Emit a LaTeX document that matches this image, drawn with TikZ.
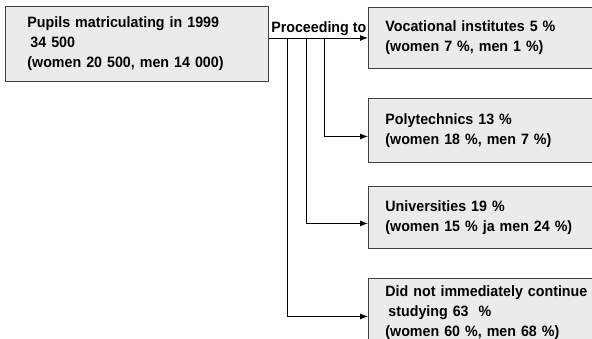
\documentclass[tikz,border=0pt]{standalone}
\usepackage{fontspec}
\setmainfont[FakeStretch=0.95]{Liberation Sans}
\usetikzlibrary{arrows,arrows.meta}

\begin{document}
\begin{tikzpicture}[x=1pt,y=-1pt]
% Styles
 \tikzstyle{boite}=[rectangle,draw=black!75,fill=black!8,line width=0.9pt,
      inner xsep=17pt,inner ysep=0pt,font=\fontsize{15}{20}\selectfont\bfseries,
      align=left,anchor=north west]
 \tikzstyle{fleche}=[-{Latex[length=8pt,width=6pt]},line width=0.8pt]
 \useasboundingbox (0,0) rectangle (592,338);
 \clip (0,0) rectangle (592,338);
 \fill[white] (0,0) rectangle (592,338);
% Depart
 \node[boite,inner xsep=22pt,text width=219pt,minimum height=75pt] (pupils) at (5,6)
      {Pupils matriculating in 1999\\\hspace{0.2em}34 500\\(women 20 500, men 14 000)};
% Destinations
 \node[boite,text width=230pt,minimum height=61pt] (voc) at (368,7)
      {Vocational institutes 5 \%\\(women 7 \%, men 1 \%)};
 \node[boite,text width=230pt,minimum height=64pt] (poly) at (368,98)
      {Polytechnics 13 \%\\(women 18 \%, men 7 \%)};
 \node[boite,text width=230pt,minimum height=62pt] (univ) at (368,186)
      {Universities 19 \%\\(women 15 \% ja men 24 \%)};
 \node[boite,text width=230pt,minimum height=68pt] (none) at (368,278)
      {Did not immediately continue\\\hspace{0.2em}studying 63~ \%\\(women 60 \%, men 68 \%)};
% Fleches
 \draw[fleche] (pupils.east |- voc.west) -- (voc.west)
      node[pos=0,above right,inner sep=2pt,font=\fontsize{15}{20}\selectfont\bfseries] (proc) {Proceeding to};
 \coordinate (b1) at (287,38);
 \coordinate (b2) at (306,38);
 \coordinate (b3) at (324,38);
 \draw[fleche] (b3) |- ([yshift=-6pt]poly.west);
 \draw[fleche] (b2) |- ([yshift=-6pt]univ.west);
 \draw[fleche] (b1) |- ([yshift=-4pt]none.west);
\end{tikzpicture}
\end{document}
